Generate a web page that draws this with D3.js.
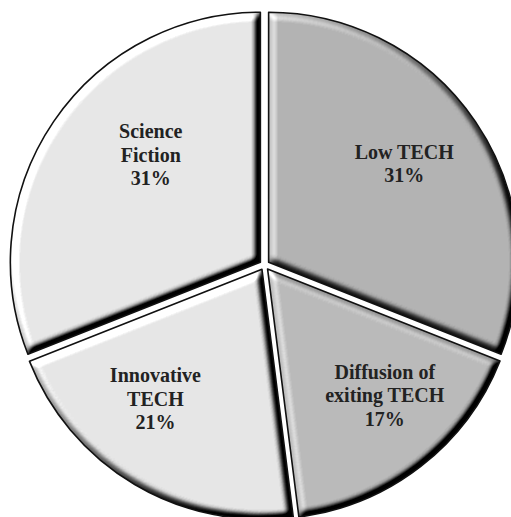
<!DOCTYPE html>
<html>
<head>
<meta charset="utf-8">
<script src="https://cdn.jsdelivr.net/npm/d3@7"></script>
<style>
  body { margin: 0; background: #fff; }
  svg { display: block; }
  .slice-label { font-family: "Liberation Serif", "Times New Roman", serif; font-weight: bold; font-size: 20px; fill: #222; }
</style>
</head>
<body>
<script>
// data
var categories = ["Low TECH", "Diffusion of exiting TECH", "Innovative TECH", "Science Fiction"]
var shares = [31, 17, 21, 31]
// how each label breaks into lines
var labelLines = [["Low TECH"], ["Diffusion of", "exiting TECH"], ["Innovative", "TECH"], ["Science", "Fiction"]]

// layout / style
var width = 511, height = 517
var cx = 264.5, cy = 265, radius = 250, explode = 5
var fills = ["#b3b3b3", "#bababa", "#e6e6e6", "#e7e7e7"]
var labelNudge = [[-5, -3], [13, -8], [-20, -17], [31, -12]]
var lineHeight = 23.5

let svg = d3.select("body").append("svg")
    .attr("width", width)
    .attr("height", height)

// bevel filter: blurred alpha lit from the top left, multiplied into the fill
let filter = svg.append("defs").append("filter")
    .attr("id", "bevel")
    .attr("color-interpolation-filters", "sRGB")
filter.append("feGaussianBlur")
    .attr("in", "SourceAlpha")
    .attr("stdDeviation", 3.5)
    .attr("result", "blur")
filter.append("feDiffuseLighting")
    .attr("in", "blur")
    .attr("surfaceScale", 9)
    .attr("diffuseConstant", 1)
    .attr("lighting-color", "#fff")
    .attr("result", "light")
    .append("feDistantLight")
    .attr("azimuth", 225)
    .attr("elevation", 45)
filter.append("feComposite")
    .attr("in", "SourceGraphic")
    .attr("in2", "light")
    .attr("operator", "arithmetic")
    .attr("k1", 1.414)
    .attr("k2", 0).attr("k3", 0).attr("k4", 0)
    .attr("result", "lit")
filter.append("feComposite")
    .attr("in", "lit")
    .attr("in2", "SourceAlpha")
    .attr("operator", "in")

let data = categories.map((c, i) => ({ name: c, value: shares[i], lines: labelLines[i].concat([shares[i] + "%"]), idx: i }))

let pie = d3.pie().sort(null).value(d => d.value)
let arcs = pie(data)

let arc = d3.arc().innerRadius(0).outerRadius(radius)
let labelArc = d3.arc().innerRadius(175).outerRadius(175)

let g = svg.append("g").attr("transform", "translate(" + cx + "," + cy + ")")

// each slice pulled out a little along its middle angle
let slices = g.selectAll("g.slice")
    .data(arcs)
    .enter()
    .append("g")
    .attr("class", "slice")
    .attr("transform", d => {
        let mid = (d.startAngle + d.endAngle) / 2
        return "translate(" + (Math.sin(mid) * explode) + "," + (-Math.cos(mid) * explode) + ")"
    })

slices.append("path")
    .attr("d", arc)
    .attr("fill", d => fills[d.data.idx])
    .attr("filter", "url(#bevel)")

slices.append("path")
    .attr("d", arc)
    .attr("fill", "none")
    .attr("stroke", "#111")
    .attr("stroke-width", 1.6)
    .attr("stroke-linejoin", "round")

// labels
g.selectAll("text.slice-label")
    .data(arcs)
    .enter()
    .append("text")
    .attr("class", "slice-label")
    .attr("text-anchor", "middle")
    .each(function (d) {
        let c = labelArc.centroid(d)
        let x = c[0] + labelNudge[d.data.idx][0]
        let y = c[1] + labelNudge[d.data.idx][1]
        let n = d.data.lines.length
        let first = y - (n - 1) / 2 * lineHeight + 7
        d3.select(this).selectAll("tspan")
            .data(d.data.lines)
            .enter()
            .append("tspan")
            .attr("x", x)
            .attr("y", (t, i) => first + i * lineHeight)
            .text(t => t)
    })
</script>
</body>
</html>
